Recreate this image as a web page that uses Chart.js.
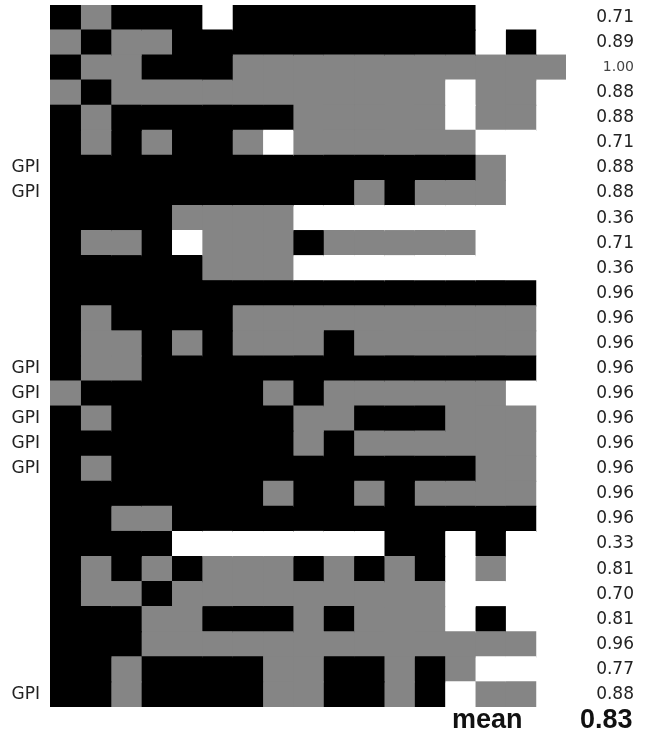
<!DOCTYPE html>
<html>
<head>
<meta charset="utf-8">
<script src="https://cdn.jsdelivr.net/npm/chart.js@4.4.1/dist/chart.umd.min.js"></script>
<style>
  body { margin: 0; background: #fff; }
  #wrap { position: relative; width: 648px; height: 736px; }
  .foot { position: absolute; font-family: "Liberation Sans", Arial, sans-serif; font-weight: bold; font-size: 27px; color: #111; top: 704px; }
</style>
</head>
<body>
<div id="wrap">
  <canvas id="myChart" width="648" height="736"></canvas>
  <div class="foot" style="left:452px">mean</div>
  <div class="foot" style="left:580px">0.83</div>
</div>
<script>
// one string per row, one letter per column: B = black, G = grey, W = empty
var cells = [
    'BGBBBWBBBBBBBBWWW',
    'GBGGBBBBBBBBBBWBW',
    'BGGBBBGGGGGGGGGGG',
    'GBGGGGGGGGGGGWGGW',
    'BGBBBBBBGGGGGWGGW',
    'BGBGBBGWGGGGGGWWW',
    'BBBBBBBBBBBBBBGWW',
    'BBBBBBBBBBGBGGGWW',
    'BBBBGGGGWWWWWWWWW',
    'BGGBWGGGBGGGGGWWW',
    'BBBBBGGGWWWWWWWWW',
    'BBBBBBBBBBBBBBBBW',
    'BGBBBBGGGGGGGGGGW',
    'BGGBGBGGGBGGGGGGW',
    'BGGBBBBBBBBBBBBBW',
    'GBBBBBBGBGGGGGGWW',
    'BGBBBBBBGGBBBGGGW',
    'BBBBBBBBGBGGGGGGW',
    'BGBBBBBBBBBBBBGGW',
    'BBBBBBBGBBGBGGGGW',
    'BBGGBBBBBBBBBBBBW',
    'BBBBWWWWWWWBBWBWW',
    'BGBGBGGGBGBGBWGWW',
    'BGGBGGGGGGGGGWWWW',
    'BBBGGBBBGBGGGWBWW',
    'BBBGGGGGGGGGGGGGW',
    'BBGBBBBGGBBGBGWWW',
    'BBGBBBBGGBBGBWGGW'
];
var rowLabels = ['', '', '', '', '', '', 'GPI', 'GPI', '', '', '', '', '', '', 'GPI', 'GPI', 'GPI', 'GPI', 'GPI', '', '', '', '', '', '', '', '', 'GPI'];
var scores = ['0.71', '0.89', '1.00', '0.88', '0.88', '0.71', '0.88', '0.88', '0.36', '0.71', '0.36', '0.96', '0.96', '0.96', '0.96', '0.96', '0.96', '0.96', '0.96', '0.96', '0.96', '0.33', '0.81', '0.70', '0.81', '0.96', '0.77', '0.88'];

var colours = { B: '#000000', G: '#858585', W: '#ffffff' };
var nCols = cells[0].length;

var datasets = [];
for (var j = 0; j < nCols; j++) {
    datasets.push({
        data: cells.map(function() { return 1; }),
        backgroundColor: cells.map(function(r) { return colours[r[j]]; }),
        borderWidth: 0,
        inflateAmount: 0.6,
        barPercentage: 1,
        categoryPercentage: 1
    });
}

// keep the tick padding from pushing the plot area down
function noVerticalPadding(s, w) {
    s.width = w;
    s.paddingTop = 0;
    s.paddingBottom = 0;
}

var ctx = document.getElementById('myChart').getContext('2d');
var myChart = new Chart(ctx, {
    type: 'bar',
    data: {
        labels: rowLabels,
        datasets: datasets
    },
    options: {
        indexAxis: 'y',
        responsive: false,
        animation: false,
        layout: { padding: { top: 5, bottom: 29, left: 0, right: 14 } },
        plugins: { legend: { display: false }, tooltip: { enabled: false } },
        scales: {
            x: { stacked: true, min: 0, max: nCols, display: false },
            y: {
                stacked: true,
                position: 'left',
                grid: { display: false, drawTicks: false },
                border: { display: false },
                ticks: {
                    autoSkip: false,
                    padding: 10,
                    color: '#222',
                    font: { family: 'DejaVu Sans', size: 17 }
                },
                afterFit: function(s) { noVerticalPadding(s, 50); }
            },
            y2: {
                type: 'category',
                labels: scores,
                offset: true,
                position: 'right',
                grid: { display: false, drawTicks: false },
                border: { display: false },
                ticks: {
                    autoSkip: false,
                    padding: 16,
                    crossAlign: 'far',
                    color: function(c) { return c.index === 2 ? '#444' : '#222'; },
                    font: function(c) {
                        return { family: 'DejaVu Sans', size: c.index === 2 ? 14 : 17 };
                    }
                },
                afterFit: function(s) { noVerticalPadding(s, 68); }
            }
        }
    }
});
</script>
</body>
</html>
